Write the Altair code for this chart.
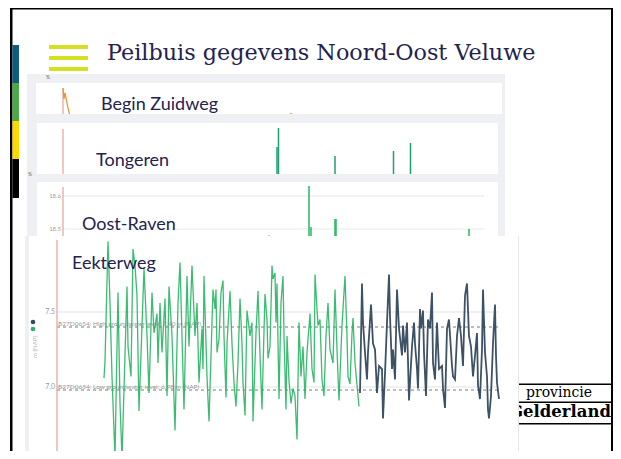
import altair as alt
import pandas as pd

# ---------------- data ----------------
title_text = "Peilbuis gegevens Noord-Oost Veluwe"
panel_names = ["Begin Zuidweg", "Tongeren", "Oost-Raven", "Eekterweg"]

# Eekterweg (m NAP) - green series
eek_green_day = [47, 48, 51, 53, 55, 58, 61, 63, 65, 70, 71, 74, 76, 78, 80, 82, 87, 90, 92, 95,
                 97, 100, 101, 103, 105, 108, 110, 112, 115, 118, 121, 123, 125, 127, 130, 132, 135, 138, 140, 142,
                 145, 146, 147, 150, 152, 156, 158, 159, 160, 162, 164, 166, 167, 169, 170, 173, 175, 177, 179, 181,
                 183, 185, 186, 188, 190, 193, 195, 196, 199, 201, 203, 205, 206, 208, 210, 211, 213, 215, 216, 218,
                 219, 220, 222, 224, 226, 227, 229, 230, 232, 234, 236, 238, 240, 242, 244, 246, 248, 250, 253, 255,
                 257, 258, 260, 261, 263, 265, 267, 269, 271, 273, 276, 278, 280, 282, 285, 286, 288, 290, 291, 293,
                 295, 296, 298, 302]
eek_green_lvl = [7.06, 7.17, 7.97, 7.56, 7.07, 6.53, 7.63, 6.89, 6.53, 7.67,
                 7.27, 7.07, 7.92, 7.81, 7.61, 6.84, 7.79, 7.34, 6.96, 7.63,
                 7.36, 7.49, 7.16, 7.56, 7.23, 7.59, 6.94, 7.67, 7.34, 6.71,
                 7.56, 7.83, 7.34, 6.85, 7.74, 7.27, 7.81, 7.34, 7.56, 7.03,
                 7.39, 7.12, 7.74, 7.07, 6.77, 7.65, 7.52, 7.65, 7.23, 7.32,
                 7.63, 7.71, 7.34, 6.93, 7.29, 7.64, 7.29, 7.03, 6.87, 7.16,
                 7.59, 7.29, 7.03, 6.81, 7.51, 7.34, 7.43, 6.77, 7.36, 7.64,
                 7.21, 6.85, 7.12, 7.62, 7.45, 7.19, 7.27, 7.81, 7.72, 7.76,
                 7.43, 7.69, 6.92, 7.56, 7.74, 7.34, 6.85, 7.34, 7.04, 6.89,
                 6.99, 6.94, 6.65, 7.43, 7.07, 7.27, 6.92, 7.23, 7.49, 7.12,
                 7.03, 7.75, 7.52, 7.41, 7.45, 7.05, 6.94, 7.34, 7.56, 7.25,
                 7.16, 7.65, 7.25, 6.91, 7.41, 7.52, 7.74, 7.34, 7.07, 7.02,
                 7.36, 7.46, 7.16, 6.87]
# Eekterweg - navy series
eek_navy_day = [303, 305, 306, 308, 310, 311, 314, 316, 318, 320, 322, 325, 326, 328, 330, 332, 333, 335, 336, 338,
                340, 342, 345, 346, 348, 350, 352, 355, 357, 358, 360, 361, 363, 364, 366, 367, 369, 371, 373, 375,
                376, 378, 380, 382, 385, 386, 388, 390, 392, 395, 396, 398, 400, 402, 404, 406, 408, 410, 412, 414,
                416, 418, 420, 421, 423, 425, 426, 428, 430, 431, 432, 434, 436, 438, 439, 440, 442]
eek_navy_lvl = [6.96, 7.69, 7.43, 7.23, 7.05, 7.23, 7.55, 7.29, 7.25, 6.96,
                7.14, 7.12, 6.79, 7.09, 7.43, 7.75, 7.47, 7.12, 7.25, 7.05,
                7.65, 7.39, 7.21, 7.41, 7.23, 7.43, 6.91, 7.27, 7.43, 7.29,
                7.12, 6.99, 7.52, 7.39, 7.51, 7.23, 6.94, 7.45, 7.39, 7.63,
                7.16, 7.05, 7.43, 7.12, 7.14, 6.99, 6.86, 7.39, 7.45, 7.14,
                7.07, 7.05, 7.34, 7.46, 7.34, 7.14, 7.61, 7.69, 7.34, 7.27,
                7.07, 7.21, 7.36, 7.01, 6.92, 7.25, 7.65, 7.23, 7.07, 6.85,
                6.79, 6.94, 7.29, 7.55, 7.21, 7.03, 6.92]
eek_grid = [7.0, 7.5]
eek_grid_labels = ["7.0", "7.5"]
eek_thresholds = [7.40, 6.98]
eek_threshold_labels = ["B27D0654: High groundwater level: 7.40 m (NAP)",
                        "B27D0654: Low groundwater level: 6.98 m (NAP)"]
eek_legend = ["navy", "green"]

# Begin Zuidweg (%)
bz_day = [0, 1, 2, 5, 7]
bz_val = [100, 58, 81, 23, -8]
bz_dot_day = [228]
bz_dot_val = [0]

# Tongeren spikes
tg_day = [214, 215.5, 272, 330.5, 347.5]
tg_val = [27, 46, 18, 23, 31]

# Oost-Raven spikes
or_day = [206, 246, 248, 272, 273, 406]
or_val = [18.48, 18.63, 18.506, 18.53, 18.53, 18.50]
or_grid = [18.5, 18.6]
or_grid_labels = ["18.5", "18.6"]

# ---------------- styling ----------------
OFF = 8
GRAY = "#eef0f3"
NAVYTXT = "#24224e"
GREEN = "#28b463"
NAVY = "#34495e"
PINK = "#e3a497"
one = pd.DataFrame({"k": [0]})


def P(v):
    return v - OFF


def box(x1, y1, x2, y2, color):
    return alt.Chart(one).mark_rect(color=color).encode(
        x=alt.value(P(x1)), x2=alt.value(P(x2)), y=alt.value(P(y1)), y2=alt.value(P(y2)))


def txt(s, x, y, size, color, font="Lato", align="left", baseline="alphabetic", weight="normal", angle=0):
    return alt.Chart(one).mark_text(text=s, font=font, fontSize=size, color=color, align=align,
                                    baseline=baseline, fontWeight=weight, angle=angle).encode(
        x=alt.value(P(x)), y=alt.value(P(y)))


def sc(dom, rng):
    return alt.Scale(domain=dom, range=rng, nice=False, zero=False)


sx_small = sc([0, 435], [55, 490])
sy_bz = sc([0, 100], [106, 80])
sy_tg = sc([0, 50], [166, 116])
sy_or = sc([18.5, 18.6], [221, 188])
sx_eek = sc([0, 441], [49, 490])
sy_eek = sc([7.0, 7.5], [379, 304])

L = []
# slide frame and side bars
L += [box(10, 8, 613, 9.5, "black"), box(10, 8, 12.5, 459, "black"), box(611, 8, 613, 459, "black")]
L += [box(12.5, 45, 19, 83, "#0e5d80"), box(12.5, 83, 19, 121, "#4ca847"),
      box(12.5, 121, 19, 159, "#fed800"), box(12.5, 159, 19, 198, "black")]
L += [box(49, 45, 88, 49, "#d7df23"), box(49, 56, 88, 60, "#d7df23"), box(49, 67, 88, 71, "#d7df23")]
L += [txt(title_text, 107, 60, 22.3, NAVYTXT, font="DejaVu Serif")]
# logo
L += [box(512, 383.5, 613, 385, "black"), box(512, 401.5, 613, 403, "black"), box(512, 423, 613, 424.5, "black")]
L += [txt("provincie", 526, 397, 14, "black", font="DejaVu Serif"),
      txt("Gelderland", 611, 417, 16.5, "black", font="DejaVu Serif", align="right", weight="bold")]

# ---- panel 1: Begin Zuidweg
bz = pd.DataFrame({"day": bz_day, "v": bz_val})
bzd = pd.DataFrame({"day": bz_dot_day, "v": bz_dot_val})
bzp = pd.DataFrame({"day": [0], "top": [100], "base": [0]})
L += [box(27, 74, 505, 123, GRAY), box(36, 83, 502, 114, "white"), txt("%", 46, 79, 5, "#666")]
L += [alt.Chart(bzp).mark_rule(color=PINK, strokeWidth=1.2).encode(
          x=alt.X("day:Q", scale=sx_small, axis=None), y=alt.Y("top:Q", scale=sy_bz, axis=None), y2="base:Q"),
      alt.Chart(bz).mark_line(color="#f0902c", strokeWidth=1.2).encode(
          x=alt.X("day:Q", scale=sx_small, axis=None), y=alt.Y("v:Q", scale=sy_bz, axis=None)),
      alt.Chart(bzd).mark_point(color="#f0902c", filled=True, size=6).encode(
          x=alt.X("day:Q", scale=sx_small, axis=None), y=alt.Y("v:Q", scale=sy_bz, axis=None)),
      txt(panel_names[0], 101, 110, 18, NAVYTXT)]

# ---- panel 2: Tongeren
tg = pd.DataFrame({"day": tg_day, "v": tg_val, "base": [0] * len(tg_day)})
tgp = pd.DataFrame({"day": [0], "top": [45], "base": [0]})
L += [box(27, 114, 505, 182, GRAY), box(37, 123, 498, 174, "white")]
L += [alt.Chart(tgp).mark_rule(color=PINK, strokeWidth=1.2).encode(
          x=alt.X("day:Q", scale=sx_small, axis=None), y=alt.Y("top:Q", scale=sy_tg, axis=None), y2="base:Q"),
      alt.Chart(tg).mark_rule(color="#1f9e70", strokeWidth=1.5).encode(
          x=alt.X("day:Q", scale=sx_small, axis=None), y=alt.Y("v:Q", scale=sy_tg, axis=None), y2="base:Q"),
      txt(panel_names[1], 96, 166, 18, NAVYTXT)]

# ---- panel 3: Oost-Raven
orr = pd.DataFrame({"day": or_day, "v": or_val, "base": [18.4] * len(or_day)})
org = pd.DataFrame({"v": or_grid, "lab": or_grid_labels})
orp = pd.DataFrame({"day": [0], "top": [18.627], "base": [18.4]})
L += [box(27, 174, 505, 241, GRAY), box(37, 182, 498, 241, "white"), txt("%", 28, 176, 5, "#666")]
L += [alt.Chart(org).mark_rule(color="#e8e8e8", strokeWidth=1).encode(
          y=alt.Y("v:Q", scale=sy_or, axis=None), x=alt.value(P(63)), x2=alt.value(P(484))),
      alt.Chart(org).mark_text(align="right", baseline="middle", fontSize=6, color="#a0a0a0", font="Lato").encode(
          y=alt.Y("v:Q", scale=sy_or, axis=None), x=alt.value(P(61)), text="lab:N"),
      alt.Chart(orp).mark_rule(color=PINK, strokeWidth=1.2).encode(
          x=alt.X("day:Q", scale=sx_small, axis=None), y=alt.Y("top:Q", scale=sy_or, axis=None), y2="base:Q"),
      alt.Chart(orr).mark_rule(color=GREEN, strokeWidth=1.5).encode(
          x=alt.X("day:Q", scale=sx_small, axis=None), y=alt.Y("v:Q", scale=sy_or, axis=None), y2="base:Q"),
      txt(panel_names[2], 82, 230, 18, NAVYTXT)]

# ---- panel 4: Eekterweg
g = pd.DataFrame({"day": eek_green_day, "v": eek_green_lvl})
n = pd.DataFrame({"day": eek_navy_day, "v": eek_navy_lvl})
eg = pd.DataFrame({"v": eek_grid, "lab": eek_grid_labels})
et = pd.DataFrame({"v": eek_thresholds, "lab": eek_threshold_labels})
ep = pd.DataFrame({"day": [0], "top": [7.98], "base": [6.4]})
leg = pd.DataFrame({"s": eek_legend, "i": [0, 1]})
L += [box(25, 236, 29, 459, GRAY), box(29, 236, 518, 459, "white"), box(518, 236, 519, 459, "#e6e6e6")]
L += [alt.Chart(eg).mark_rule(color="#e3e3e3", strokeWidth=1).encode(
          y=alt.Y("v:Q", scale=sy_eek, axis=None), x=alt.value(P(57)), x2=alt.value(P(498))),
      alt.Chart(eg).mark_text(align="right", baseline="middle", fontSize=7, color="#999999", font="Lato").encode(
          y=alt.Y("v:Q", scale=sy_eek, axis=None), x=alt.value(P(55)), text="lab:N"),
      alt.Chart(et).mark_rule(color="#7a7a7a", strokeWidth=1, strokeDash=[3, 3]).encode(
          y=alt.Y("v:Q", scale=sy_eek, axis=None), x=alt.value(P(57)), x2=alt.value(P(499))),
      alt.Chart(et).mark_text(align="left", baseline="bottom", fontSize=6.5, color="#999999", font="Lato", dy=-0.5).encode(
          y=alt.Y("v:Q", scale=sy_eek, axis=None), x=alt.value(P(58)), text="lab:N"),
      alt.Chart(ep).mark_rule(color=PINK, strokeWidth=1.2).encode(
          x=alt.X("day:Q", scale=sx_eek, axis=None), y=alt.Y("top:Q", scale=sy_eek, axis=None), y2="base:Q"),
      alt.Chart(g).mark_line(color=GREEN, strokeWidth=1.3, opacity=0.9).encode(
          x=alt.X("day:Q", scale=sx_eek, axis=None), y=alt.Y("v:Q", scale=sy_eek, axis=None)),
      alt.Chart(n).mark_line(color=NAVY, strokeWidth=1.8, opacity=0.95).encode(
          x=alt.X("day:Q", scale=sx_eek, axis=None), y=alt.Y("v:Q", scale=sy_eek, axis=None)),
      alt.Chart(leg).mark_point(filled=True, size=22, opacity=1).encode(
          y=alt.Y("i:Q", scale=sc([0, 1], [P(322), P(329)]), axis=None), x=alt.value(P(33)),
          color=alt.Color("s:N", scale=alt.Scale(domain=eek_legend, range=[NAVY, GREEN]), legend=None)),
      txt("m (NAP)", 35, 347, 6, "#b5b5b5", align="center", baseline="middle", angle=270),
      txt(panel_names[3], 72, 269, 18, NAVYTXT)]

chart = alt.layer(*L).resolve_scale(x="independent", y="independent", color="independent").properties(
    width=605, height=443, padding=0, autosize=alt.AutoSizeParams(type="none"), background="white"
).configure_view(stroke=None)

chart.save("out.html", embed_options={"renderer": "svg", "actions": False})
